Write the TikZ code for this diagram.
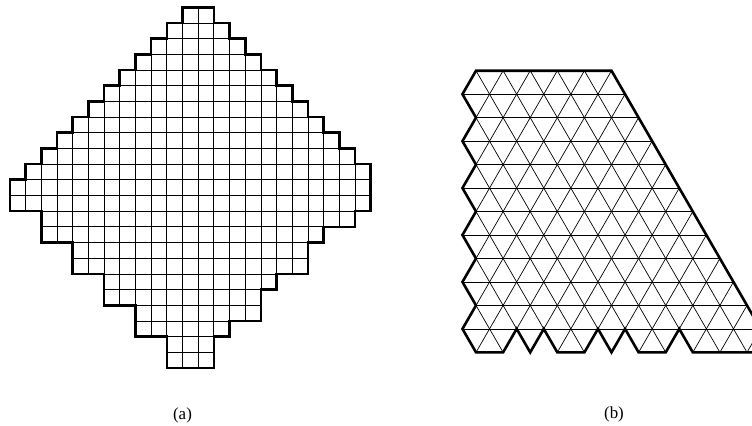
\documentclass[tikz,border=0pt]{standalone}
\usepackage{fontspec}
\setmainfont{Liberation Serif}
\begin{document}
\begin{tikzpicture}[x=1bp,y=-1bp,
  thinline/.style={line width=0.7pt,black},
  outline/.style={line width=2.6pt,black,line join=miter},
  caption/.style={font=\fontsize{17}{20}\selectfont,inner sep=0pt}]
\useasboundingbox (0,0) rectangle (752,425);
\clip (0,0) rectangle (752,425);
% ---------- (a) square grid ----------
\begin{scope}[shift={(10,7.3)},x=15.68bp,y=-15.68bp]
  \def\pathA{(11,0) -- (13,0) -- (13,1) -- (14,1) -- (14,2) -- (15,2) -- (15,3) -- (16,3) -- (16,4) -- (17,4) -- (17,5) -- (18,5) -- (18,6) -- (19,6) -- (19,7) -- (20,7) -- (20,8) -- (21,8) -- (21,9) -- (22,9) -- (22,10) -- (23,10) -- (23,13) -- (22,13) -- (22,14) -- (20,14) -- (20,15) -- (19,15) -- (19,17) -- (17,17) -- (17,18) -- (16,18) -- (16,20) -- (14,20) -- (14,21) -- (13,21) -- (13,23) -- (10,23) -- (10,21) -- (8,21) -- (8,19) -- (6,19) -- (6,17) -- (4,17) -- (4,15) -- (2,15) -- (2,13) -- (0,13) -- (0,11) -- (1,11) -- (1,10) -- (2,10) -- (2,9) -- (3,9) -- (3,8) -- (4,8) -- (4,7) -- (5,7) -- (5,6) -- (6,6) -- (6,5) -- (7,5) -- (7,4) -- (8,4) -- (8,3) -- (9,3) -- (9,2) -- (10,2) -- (10,1) -- (11,1) -- cycle}
  \begin{scope}
    \clip \pathA;
    \foreach \i in {0,...,23} \draw[thinline] (\i,0) -- (\i,23);
    \foreach \j in {0,...,23} \draw[thinline] (0,\j) -- (23,\j);
  \end{scope}
  \draw[outline] \pathA;
\end{scope}
% ---------- (b) triangular lattice ----------
\begin{scope}[shift={(476,70.7)},x=13.55bp,y=-23.47bp]
  \def\pathB{(0,0) -- (10,0) -- (22,12) -- (16,12) -- (15,11) -- (14,12) -- (12,12) -- (11,11) -- (10,12) -- (9,11) -- (8,12) -- (6,12) -- (5,11) -- (4,12) -- (3,11) -- (2,12) -- (0,12) -- (-1,11) -- (0,10) -- (-1,9) -- (0,8) -- (-1,7) -- (0,6) -- (-1,5) -- (0,4) -- (-1,3) -- (0,2) -- (-1,1) -- cycle}
  \begin{scope}
    \clip \pathB;
    \foreach \k in {0,...,12} \draw[thinline] (-2,\k) -- (24,\k);
    \foreach \c in {-14,-12,...,12} \draw[thinline] (\c,0) -- ++(12,12);
    \foreach \c in {0,2,...,36} \draw[thinline] (\c,0) -- ++(-12,12);
  \end{scope}
  \draw[outline] \pathB;
\end{scope}
% ---------- captions ----------
\node[caption] (capa) at (182.5,415) {(a)};
\node[caption] (capb) at (614,414) {(b)};
\end{tikzpicture}
\end{document}
